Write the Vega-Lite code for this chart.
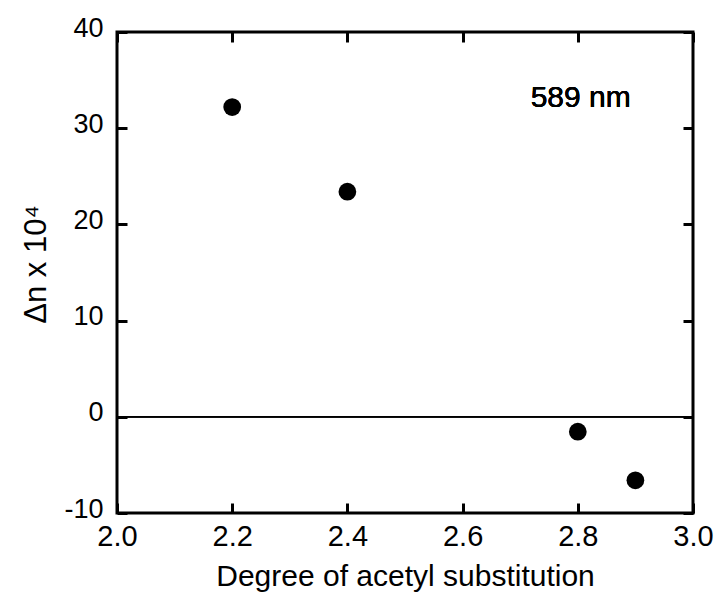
{
  "$schema": "https://vega.github.io/schema/vega-lite/v6.json",
  "width": 576,
  "height": 481,
  "autosize": "none",
  "padding": {"left": 117, "top": 32, "right": 25, "bottom": 79},
  "background": "white",
  "config": {
    "view": {"stroke": "black", "strokeWidth": 3},
    "font": "Liberation Sans",
    "axis": {"domain": false, "grid": false, "tickColor": "black", "tickWidth": 3, "tickSize": -10, "labelColor": "black", "titleColor": "black", "labelFont": "Liberation Sans", "titleFont": "Liberation Sans", "titleFontWeight": "normal"}
  },
  "data": {
    "values": [
      {"ds": 2.2, "dn": 32.2},
      {"ds": 2.4, "dn": 23.4},
      {"ds": 2.8, "dn": -1.55},
      {"ds": 2.9, "dn": -6.6}
    ]
  },
  "layer": [
    {
      "mark": {"type": "rule", "color": "black", "strokeWidth": 1.5},
      "encoding": {
        "y": {"datum": 0, "type": "quantitative", "scale": {"domain": [-10, 40], "nice": false, "zero": false}, "axis": null}
      }
    },
    {
      "mark": {"type": "point", "filled": true, "shape": "circle", "size": 314, "color": "black", "opacity": 1},
      "encoding": {
        "x": {"field": "ds", "type": "quantitative", "scale": {"domain": [2.0, 3.0], "nice": false, "zero": false},
          "axis": {"orient": "bottom", "values": [2.0, 2.2, 2.4, 2.6, 2.8, 3.0], "format": ".1f", "labelFontSize": 29, "labelPadding": 19, "labelFlush": false, "title": "Degree of acetyl substitution", "titleFontSize": 30, "titleBaseline": "alphabetic", "titleY": 72}},
        "y": {"field": "dn", "type": "quantitative", "scale": {"domain": [-10, 40], "nice": false, "zero": false},
          "axis": {"orient": "left", "values": [-10, 0, 10, 20, 30, 40], "labelExpr": "datum.value < 0 ? '-' + abs(datum.value) : '' + datum.value", "labelFontSize": 27, "labelPadding": 24, "labelFlush": false, "labelBaseline": "middle", "labelOffset": -4, "title": "Δn x 10⁴", "titleFontSize": 31, "titleBaseline": "alphabetic", "titleAngle": -90, "titleAlign": "center", "titleX": -72, "titleY": 232, "titleAnchor": null}}
      }
    },
    {
      "mark": {"type": "point", "opacity": 0},
      "encoding": {
        "x": {"field": "ds", "type": "quantitative", "scale": {"domain": [2.0, 3.0], "nice": false, "zero": false},
          "axis": {"orient": "top", "values": [2.0, 2.2, 2.4, 2.6, 2.8, 3.0], "labels": false, "title": null}},
        "y": {"field": "dn", "type": "quantitative", "scale": {"domain": [-10, 40], "nice": false, "zero": false},
          "axis": {"orient": "right", "values": [-10, 0, 10, 20, 30, 40], "labels": false, "title": null}}
      }
    },
    {
      "mark": {"type": "text", "fontSize": 30, "align": "center", "baseline": "alphabetic", "color": "black", "font": "Liberation Sans"},
      "encoding": {
        "x": {"datum": 2.805, "type": "quantitative", "axis": null},
        "y": {"datum": 32.2, "type": "quantitative", "axis": null},
        "text": {"value": "589 nm"}
      }
    }
  ],
  "resolve": {"axis": {"x": "independent", "y": "independent"}}
}
